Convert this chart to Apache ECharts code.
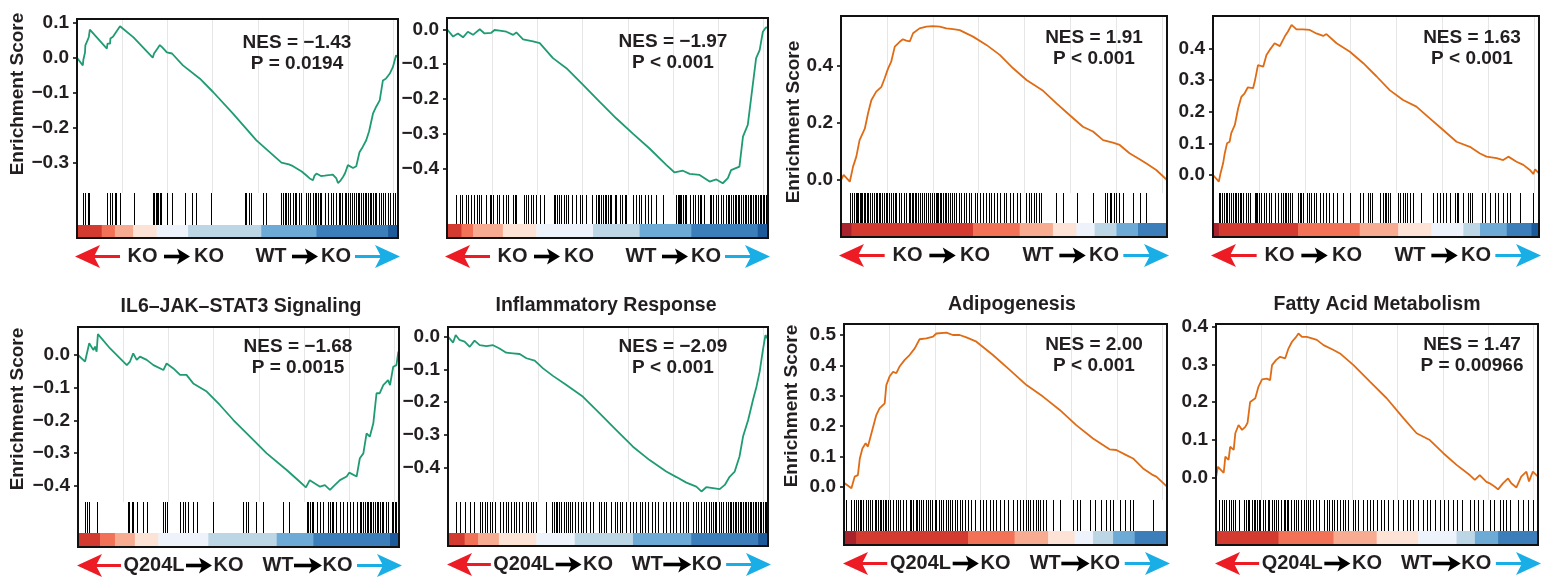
<!DOCTYPE html>
<html><head><meta charset="utf-8">
<script src="https://cdn.jsdelivr.net/npm/echarts@6/dist/echarts.min.js"></script>
<style>html,body{margin:0;padding:0;background:#fff}#c{width:1551px;height:584px}</style>
</head><body><div id="c"></div>
<script>
// ---------- DATA (x = position in ranked list, per mille; y = enrichment score) ----------
const es1 = [[0,0],[18,-0.022],[20,-0.005],[25,0.015],[26,0.035],[33,0.05],[37,0.06],[40,0.08],[93,0.026],[95,0.04],[103,0.04],[104,0.055],[112,0.06],[118,0.065],[123,0.075],[128,0.07],[134,0.09],[176,0.058],[179,0.062],[236,0.0],[240,0.012],[246,0.02],[252,0.028],[258,0.036],[265,0.03],[270,0.025],[280,0.015],[296,0.012],[330,-0.022],[383,-0.06],[424,-0.098],[486,-0.16],[559,-0.236],[637,-0.3],[660,-0.305],[673,-0.31],[700,-0.325],[714,-0.336],[725,-0.345],[735,-0.35],[740,-0.337],[746,-0.331],[760,-0.338],[772,-0.337],[790,-0.335],[797,-0.334],[808,-0.345],[813,-0.358],[820,-0.352],[829,-0.34],[835,-0.33],[844,-0.307],[860,-0.315],[870,-0.31],[880,-0.27],[890,-0.255],[901,-0.236],[910,-0.21],[922,-0.16],[932,-0.14],[943,-0.122],[953,-0.065],[962,-0.06],[974,-0.046],[984,-0.027],[994,0.007],[1000,0.0]];
const es2 = [[0,0],[19,-0.021],[34,-0.012],[50,-0.023],[65,-0.007],[81,-0.016],[102,0.0],[117,-0.012],[138,-0.01],[148,-0.002],[164,-0.004],[185,-0.007],[206,-0.016],[216,-0.009],[237,-0.029],[268,-0.035],[289,-0.04],[330,-0.083],[372,-0.112],[424,-0.16],[475,-0.208],[527,-0.256],[579,-0.3],[631,-0.343],[683,-0.39],[709,-0.412],[735,-0.407],[756,-0.416],[787,-0.419],[818,-0.438],[839,-0.432],[859,-0.443],[875,-0.428],[885,-0.405],[911,-0.395],[922,-0.309],[937,-0.275],[948,-0.194],[963,-0.083],[974,-0.06],[984,-0.007],[994,0.006],[1000,0.003]];
const es3 = [[0,0],[2,0],[8,0.018],[27,-0.006],[37,0.047],[47,0.082],[57,0.14],[73,0.18],[83,0.234],[93,0.28],[108,0.31],[124,0.327],[134,0.357],[144,0.39],[154,0.415],[165,0.468],[180,0.485],[190,0.494],[200,0.489],[211,0.486],[221,0.515],[241,0.532],[262,0.538],[282,0.54],[303,0.538],[323,0.532],[344,0.529],[364,0.526],[405,0.503],[446,0.474],[487,0.439],[528,0.392],[569,0.351],[620,0.313],[661,0.269],[701,0.228],[742,0.187],[773,0.17],[804,0.14],[834,0.131],[855,0.123],[885,0.094],[916,0.073],[937,0.058],[967,0.035],[1000,0.0]];
const es4 = [[0,0],[18,-0.021],[23,0.005],[31,0.037],[36,0.068],[43,0.1],[51,0.105],[56,0.132],[67,0.158],[77,0.21],[87,0.247],[97,0.258],[107,0.277],[123,0.274],[128,0.295],[138,0.347],[154,0.342],[164,0.379],[174,0.395],[189,0.416],[205,0.407],[220,0.437],[230,0.453],[241,0.474],[256,0.46],[276,0.46],[297,0.458],[317,0.447],[338,0.439],[348,0.445],[379,0.416],[420,0.389],[461,0.353],[502,0.311],[542,0.268],[583,0.237],[624,0.216],[665,0.179],[706,0.142],[747,0.105],[788,0.089],[819,0.068],[839,0.058],[870,0.053],[890,0.047],[906,0.058],[931,0.042],[952,0.032],[972,0.016],[983,0.003],[988,0.018],[1000,0.005]];
const es5 = [[0,0],[22,-0.02],[35,0.036],[48,0.015],[53,0.026],[58,0.01],[62,0.064],[100,0.02],[152,-0.031],[162,-0.02],[172,0.005],[183,-0.015],[193,-0.005],[214,-0.015],[235,-0.031],[266,-0.046],[276,-0.026],[297,-0.041],[318,-0.061],[338,-0.061],[359,-0.087],[401,-0.112],[442,-0.153],[484,-0.199],[546,-0.26],[588,-0.301],[650,-0.352],[691,-0.388],[710,-0.405],[722,-0.383],[738,-0.393],[754,-0.403],[769,-0.398],[785,-0.413],[795,-0.403],[816,-0.383],[837,-0.372],[845,-0.36],[868,-0.372],[878,-0.316],[889,-0.301],[899,-0.24],[909,-0.25],[920,-0.209],[930,-0.117],[940,-0.117],[951,-0.092],[966,-0.077],[972,-0.092],[982,-0.036],[992,-0.031],[998,0.01],[1000,0.005]];
const es6 = [[0,0],[16,-0.018],[24,0.005],[36,-0.01],[52,-0.015],[68,-0.031],[83,-0.012],[99,-0.026],[120,-0.029],[141,-0.026],[161,-0.036],[182,-0.049],[203,-0.051],[224,-0.053],[245,-0.066],[271,-0.073],[297,-0.097],[328,-0.12],[370,-0.148],[422,-0.184],[474,-0.235],[526,-0.286],[578,-0.337],[630,-0.378],[682,-0.413],[714,-0.43],[745,-0.447],[776,-0.459],[792,-0.474],[807,-0.461],[828,-0.464],[849,-0.467],[865,-0.454],[880,-0.429],[896,-0.413],[911,-0.367],[922,-0.306],[938,-0.255],[953,-0.194],[964,-0.153],[974,-0.107],[984,-0.041],[992,0.005],[1000,-0.008]];
const es7 = [[0,0],[2,0.011],[7,0.016],[23,-0.005],[33,0.033],[43,0.038],[49,0.093],[57,0.126],[67,0.143],[74,0.132],[85,0.176],[100,0.236],[110,0.258],[126,0.275],[131,0.335],[141,0.363],[152,0.379],[162,0.374],[172,0.396],[188,0.418],[203,0.434],[219,0.456],[234,0.486],[255,0.489],[276,0.495],[286,0.505],[317,0.508],[337,0.5],[358,0.5],[379,0.492],[410,0.478],[461,0.434],[513,0.385],[565,0.335],[616,0.297],[668,0.253],[719,0.203],[771,0.159],[822,0.123],[843,0.121],[874,0.104],[895,0.093],[926,0.06],[957,0.038],[967,0.033],[1000,0.0]];
const es8 = [[0,0],[2,-0.003],[6,0.028],[24,0.012],[29,0.055],[39,0.046],[44,0.081],[55,0.073],[60,0.117],[70,0.139],[81,0.126],[91,0.134],[98,0.145],[106,0.2],[122,0.21],[132,0.241],[143,0.26],[158,0.262],[168,0.258],[174,0.298],[187,0.312],[199,0.32],[215,0.316],[225,0.342],[236,0.36],[249,0.373],[256,0.382],[267,0.373],[282,0.373],[298,0.369],[313,0.365],[334,0.351],[365,0.338],[385,0.329],[427,0.298],[478,0.254],[530,0.21],[582,0.157],[623,0.117],[664,0.099],[706,0.064],[747,0.033],[788,0.006],[804,-0.007],[819,0.006],[840,-0.012],[850,-0.016],[866,-0.025],[876,-0.032],[891,-0.016],[907,-0.003],[917,-0.016],[933,-0.027],[948,0.002],[964,0.015],[972,-0.011],[984,0.015],[995,0.006],[1000,0.002]];

const hits1 = [20,25,33,38,94,103,110,118,123,134,178,237,241,245,250,253,258,263,279,295,336,357,372,419,523,528,536,543,580,590,637,642,647,652,658,663,673,678,683,692,699,714,720,725,735,740,746,751,756,761,772,782,792,797,808,816,820,826,834,839,844,849,858,862,868,875,880,886,891,896,901,906,912,917,922,927,932,941,948,953,961,968,975,984,992];
const hits2 = [27,39,48,58,65,76,83,93,100,107,120,133,138,143,156,162,174,183,190,206,211,216,239,245,252,263,268,276,289,301,332,335,343,349,356,363,372,377,390,403,413,421,432,453,465,470,475,481,486,491,496,501,507,512,522,527,538,546,553,558,579,590,598,605,616,626,636,652,673,712,714,719,722,727,730,735,740,745,756,766,774,782,787,792,802,818,823,828,837,844,854,859,870,875,880,885,891,896,901,906,911,917,922,927,932,937,943,948,953,958,963,968,974,979,984,989,994];
const hits3 = [27,35,39,45,49,53,57,61,65,70,74,80,84,90,94,100,106,110,117,121,127,131,137,141,147,154,160,165,170,178,185,192,200,209,213,217,221,226,231,236,241,249,254,262,267,272,280,284,290,294,299,303,308,313,318,323,328,333,342,346,354,362,369,376,384,393,400,410,417,425,436,444,454,461,468,477,487,499,507,517,528,540,548,569,577,584,591,599,607,614,661,681,725,773,809,816,824,829,836,845,853,865,896,916,937];
const hits4 = [18,23,29,34,39,43,49,56,61,67,72,77,82,87,92,102,107,113,128,131,135,141,148,156,164,172,179,189,200,210,215,220,225,230,235,241,261,266,271,276,287,295,302,309,317,328,338,348,356,368,379,399,420,450,461,476,481,489,512,522,527,532,537,542,568,573,583,589,596,604,614,637,675,686,696,706,714,727,742,747,752,768,783,788,793,824,834,850,865,875,890,901,911,942,983];
const hits5 = [22,29,35,58,155,160,167,172,183,201,214,266,271,276,318,326,333,344,357,370,421,515,523,530,556,577,639,658,712,714,717,722,728,733,743,754,764,780,785,790,795,803,816,826,837,847,857,868,878,883,889,894,899,904,909,914,920,925,930,935,940,946,951,961,966,977,982,987,992];
const hits6 = [24,36,52,68,80,99,107,115,122,130,139,146,161,172,180,188,198,205,214,222,232,243,250,260,266,274,307,326,330,336,341,347,354,361,368,375,382,389,396,406,417,422,432,443,453,472,479,486,495,510,521,528,536,545,555,568,578,589,599,607,615,625,639,646,656,672,682,693,703,714,724,734,743,750,766,774,781,792,799,807,816,823,828,833,839,847,854,859,868,875,880,885,891,896,901,906,911,917,922,927,932,938,943,948,953,958,964,969,974,979,984,990,995];
const hits7 = [7,23,30,36,43,49,54,59,67,74,82,88,95,100,105,110,116,121,126,131,136,141,152,160,167,174,183,193,203,208,214,222,226,232,239,245,253,260,265,273,281,286,294,301,307,315,322,327,335,343,350,358,366,374,384,394,405,420,430,441,451,461,472,482,494,508,523,536,544,554,562,570,577,585,593,601,608,616,626,647,668,709,721,730,761,776,797,812,822,833,853,869,884,895,957,996];
const hits8 = [8,19,26,32,39,46,53,60,70,88,94,98,104,112,117,122,127,132,137,146,153,160,166,174,181,187,194,201,210,215,220,225,232,241,249,256,263,272,280,287,292,301,311,321,334,344,352,359,367,375,385,394,401,411,425,432,442,456,468,478,489,501,511,522,535,551,566,582,592,602,613,628,644,654,664,680,695,708,721,737,747,765,788,801,814,829,850,863,881,891,902,912,938,953,969,984];

// ranked-metric colour bar: [start, end, level]  (level +5 strong up ... -5 strong down)
const cbar1 = [[0,77,4],[77,118,3],[118,175,2],[175,248,1],[248,346,-1],[346,574,-2],[574,746,-3],[746,969,-4],[969,1000,-5]];
const cbar2 = [[0,45,4],[45,81,3],[81,174,2],[174,278,1],[278,455,-1],[455,600,-2],[600,761,-3],[761,968,-4],[968,1000,-5]];
const cbar3 = [[0,32,5],[32,405,4],[405,548,3],[548,650,2],[650,722,1],[722,778,-1],[778,845,-2],[845,911,-3],[911,1000,-4]];
const cbar4 = [[0,18,5],[18,261,4],[261,450,3],[450,568,2],[568,670,1],[670,768,-1],[768,819,-2],[819,901,-3],[901,977,-4],[977,1000,-5]];
const cbar5 = [[0,69,4],[69,115,3],[115,177,2],[177,250,1],[250,406,-1],[406,619,-2],[619,733,-3],[733,972,-4],[972,1000,-5]];
const cbar6 = [[0,52,4],[52,94,3],[94,159,2],[159,276,1],[276,396,-1],[396,578,-2],[578,760,-3],[760,969,-4],[969,1000,-5]];
const cbar7 = [[0,38,5],[38,384,4],[384,528,3],[528,632,2],[632,714,1],[714,771,-1],[771,833,-2],[833,900,-3],[900,1000,-4]];
const cbar8 = [[0,194,4],[194,365,3],[365,499,2],[499,628,1],[628,747,-1],[747,804,-2],[804,876,-3],[876,1000,-4]];

const titles = ['', '', '', '', 'IL6–JAK–STAT3 Signaling', 'Inflammatory Response', 'Adipogenesis', 'Fatty Acid Metabolism'];
const nesLabels = ['NES = −1.43', 'NES = −1.97', 'NES = 1.91', 'NES = 1.63', 'NES = −1.68', 'NES = −2.09', 'NES = 2.00', 'NES = 1.47'];
const pLabels = ['P = 0.0194', 'P < 0.001', 'P < 0.001', 'P < 0.001', 'P = 0.0015', 'P < 0.001', 'P < 0.001', 'P = 0.00966'];
const yTicks = [[-0.3,-0.2,-0.1,0,0.1],[-0.4,-0.3,-0.2,-0.1,0],[0,0.2,0.4],[0,0.1,0.2,0.3,0.4],[-0.4,-0.3,-0.2,-0.1,0],[-0.4,-0.3,-0.2,-0.1,0],[0,0.1,0.2,0.3,0.4,0.5],[0,0.1,0.2,0.3,0.4]];
const groupLeft = ['KO','KO','KO','KO','Q204L','Q204L','Q204L','Q204L'];
const groupRight = 'WT';
const groupTarget = 'KO';
const yName = 'Enrichment Score';
const rankListSize = 14200, gridStepGenes = 2000;

const esData = [es1,es2,es3,es4,es5,es6,es7,es8];
const hitData = [hits1,hits2,hits3,hits4,hits5,hits6,hits7,hits8];
const cbarData = [cbar1,cbar2,cbar3,cbar4,cbar5,cbar6,cbar7,cbar8];

// ---------- LAYOUT / STYLE ----------
const GREEN = '#1f9b74', ORANGE = '#df6c15', INK = '#231f20';
const FONT = '"Liberation Sans", Arial, sans-serif';
const palette = {5:'#a8232c',4:'#d33b31',3:'#f17256',2:'#f7ab90',1:'#fde3d6','-1':'#eef2fa','-2':'#bcd6e6','-3':'#6eaad6','-4':'#3b7eb9','-5':'#1c5a9c'};
const L = [
 {l:77,  r:398,  t:19,  rug:193, cb:225, b:238, yMin:-0.3866, yMax:0.1106, c:GREEN,  name:[18,94],   nes:[297,43]},
 {l:447, r:768,  t:18,  rug:195, cb:224, b:238, yMin:-0.4768, yMax:0.0325, c:GREEN,  name:null,      nes:[673,42]},
 {l:841, r:1167, t:16,  rug:193, cb:223, b:237, yMin:-0.0456, yMax:0.5754, c:ORANGE, name:[794,122], nes:[1094,38]},
 {l:1213,r:1539, t:16,  rug:193, cb:223, b:237, yMin:-0.0568, yMax:0.502,  c:ORANGE, name:null,      nes:[1472,38]},
 {l:78,  r:399,  t:327, rug:502, cb:533, b:547, yMin:-0.4499, yMax:0.0857, c:GREEN,  name:[18,409],  nes:[298,347], title:[241,307]},
 {l:448, r:768,  t:327, rug:502, cb:533, b:546, yMin:-0.5063, yMax:0.0297, c:GREEN,  name:null,      nes:[673,347], title:[606,306]},
 {l:844, r:1167, t:324, rug:500, cb:531, b:545, yMin:-0.0439, yMax:0.5363, c:ORANGE, name:[792,406], nes:[1094,345], title:[1012,305]},
 {l:1216,r:1538, t:324, rug:500, cb:531, b:545, yMin:-0.0603, yMax:0.4072, c:ORANGE, name:null,      nes:[1472,345], title:[1377,305]}
];
const ROW_KO = {red:[-2,43], t1:65.5, a1:[87,113], t2:132, t3:194, a2:[215,241], t4:259, blue:[278,323]};
const ROW_Q  = {red:[-1,43], t1:76,   a1:[108,134], t2:150.5, t3:200, a2:[216,244], t4:259.5, blue:[279,324]};

const fmt = v => (v < 0 ? '−' : '') + Math.abs(v).toFixed(1);

const grid = [], xAxis = [], yAxis = [], series = [], graphic = [];
function txt(x, y, s, size, rot) {
  const e = {type:'text', x:x, y:y, z:100, style:{text:s, fill:INK, font:'bold '+size+'px '+FONT, textAlign:'center', textVerticalAlign:'middle'}};
  if (rot) e.rotation = rot;
  return e;
}
function arrowRow(p, i) {
  const R = groupLeft[i] === 'KO' ? ROW_KO : ROW_Q;
  const s = (p.r - p.l) / 321, X = v => p.l + v * s, y = p.b + 18.5;
  const r0 = X(R.red[0]), r1 = X(R.red[1]);
  graphic.push({type:'polygon', z:100, shape:{points:[[r0,y],[r0+25,y-11.5],[r0+19,y],[r0+25,y+11.5]]}, style:{fill:'#ed1c24'}});
  graphic.push({type:'rect', z:100, shape:{x:r0+18, y:y-1.5, width:r1-r0-18, height:3}, style:{fill:'#ed1c24'}});
  const b0 = X(R.blue[0]), b1 = X(R.blue[1]);
  graphic.push({type:'polygon', z:100, shape:{points:[[b1,y],[b1-25,y-11.5],[b1-19,y],[b1-25,y+11.5]]}, style:{fill:'#1aaee6'}});
  graphic.push({type:'rect', z:100, shape:{x:b0, y:y-1.5, width:b1-b0-18, height:3}, style:{fill:'#1aaee6'}});
  [R.a1, R.a2].forEach(a => {
    const a0 = X(a[0]), a1 = X(a[1]);
    graphic.push({type:'rect', z:100, shape:{x:a0, y:y-1.8, width:a1-a0-9, height:3.6}, style:{fill:'#000'}});
    graphic.push({type:'polygon', z:100, shape:{points:[[a1,y],[a1-13,y-8],[a1-10,y],[a1-13,y+8]]}, style:{fill:'#000'}});
  });
  graphic.push(txt(X(R.t1), y, groupLeft[i], 20));
  graphic.push(txt(X(R.t2), y, groupTarget, 20));
  graphic.push(txt(X(R.t3), y, groupRight, 20));
  graphic.push(txt(X(R.t4), y, groupTarget, 20));
}

L.forEach((p, i) => {
  const w = p.r - p.l, g = i * 4;
  grid.push({left:p.l, top:p.t, width:w, height:p.b - p.t, show:true, borderColor:'#111', borderWidth:2, backgroundColor:'transparent', z:10});
  xAxis.push({gridIndex:g, type:'value', show:false, min:0, max:1});
  yAxis.push({gridIndex:g, type:'value', show:false, min:0, max:1});
  grid.push({left:p.l, top:p.t, width:w, height:p.rug - p.t});
  xAxis.push({gridIndex:g+1, type:'value', min:0, max:1000, interval:1000 * gridStepGenes / rankListSize,
    axisLine:{show:false}, axisTick:{show:false}, axisLabel:{show:false},
    splitLine:{show:true, lineStyle:{color:'#e6e6e6', width:1}}});
  yAxis.push({gridIndex:g+1, type:'value', min:p.yMin, max:p.yMax, axisLine:{show:false},
    axisTick:{show:true, length:4, customValues:yTicks[i], lineStyle:{color:'#000', width:1.5}},
    axisLabel:{show:true, customValues:yTicks[i], formatter:fmt, margin:8, color:INK, fontSize:19, fontWeight:'bold', fontFamily:FONT},
    splitLine:{show:false}});
  grid.push({left:p.l, top:p.rug, width:w, height:p.cb - p.rug});
  xAxis.push({gridIndex:g+2, type:'value', show:false, min:0, max:1000});
  yAxis.push({gridIndex:g+2, type:'value', show:false, min:0, max:1});
  grid.push({left:p.l, top:p.cb, width:w, height:p.b - p.cb - 1});
  xAxis.push({gridIndex:g+3, type:'value', show:false, min:0, max:1000});
  yAxis.push({gridIndex:g+3, type:'value', show:false, min:0, max:1});

  series.push({type:'line', xAxisIndex:g+1, yAxisIndex:g+1, data:esData[i], showSymbol:false, symbol:'none',
    lineStyle:{color:p.c, width:1.8}, z:5});
  series.push({type:'custom', xAxisIndex:g+2, yAxisIndex:g+2, data:hitData[i].map(h => [h, 1]),
    renderItem:(params, api) => {
      const a = api.coord([api.value(0), 1]), b = api.coord([api.value(0), 0]);
      const x = Math.round(a[0]) + 0.5;
      return {type:'line', shape:{x1:x, y1:a[1], x2:x, y2:b[1]}, style:{stroke:'#000', lineWidth:1}};
    }});
  series.push({type:'custom', xAxisIndex:g+3, yAxisIndex:g+3, data:cbarData[i],
    renderItem:(params, api) => {
      const a = api.coord([api.value(0), 1]), b = api.coord([api.value(1), 0]);
      return {type:'rect', shape:{x:a[0], y:a[1], width:b[0]-a[0]+0.6, height:b[1]-a[1]}, style:{fill:palette[api.value(2)]}};
    }});

  if (p.name) graphic.push(txt(p.name[0], p.name[1], yName, 19, Math.PI / 2));
  graphic.push(txt(p.nes[0], p.nes[1], nesLabels[i], 19));
  graphic.push(txt(p.nes[0], p.nes[1] + 21, pLabels[i], 19));
  if (p.title) graphic.push(txt(p.title[0], p.title[1], titles[i], 19.5));
  arrowRow(p, i);
});

const chart = echarts.init(document.getElementById('c'), null, {renderer:'canvas'});
chart.setOption({animation:false, backgroundColor:'#fff', grid, xAxis, yAxis, series, graphic});
</script></body></html>
